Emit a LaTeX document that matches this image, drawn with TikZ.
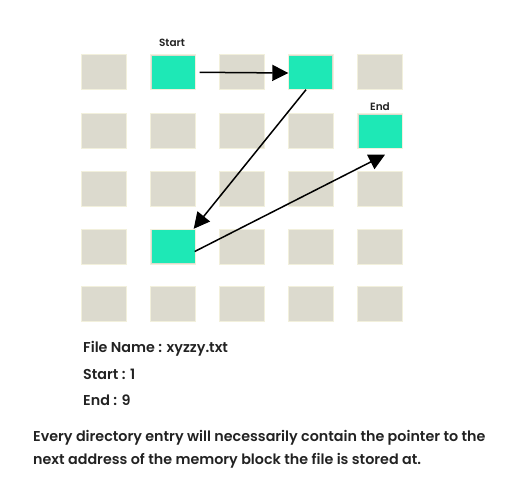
\documentclass[tikz,border=0pt]{standalone}
\usepackage{fontspec}
\setmainfont{Poppins}[UprightFont={* Medium},BoldFont={* SemiBold}]
\usetikzlibrary{arrows.meta}
\definecolor{cellgray}{HTML}{DCDACE}
\definecolor{cellline}{HTML}{F2F0DC}
\definecolor{teal}{HTML}{1EE8B6}
\definecolor{txt}{HTML}{222222}
\tikzset{
  cell/.style={draw=cellline, line width=0.8pt, fill=cellgray, minimum width=45pt, minimum height=35pt, inner sep=0pt},
  gcell/.style={fill=teal, minimum width=43pt, minimum height=33pt, inner sep=0pt},
  link/.style={line width=1.5pt, -{Triangle[length=16pt,width=16pt]}},
  lbl/.style={text=txt, font=\fontsize{10.5}{12}\bfseries\selectfont, inner sep=0pt},
  info/.style={text=txt, font=\fontsize{14.3}{16}\bfseries\selectfont, anchor=west, inner sep=0pt},
}
\begin{document}
\begin{tikzpicture}[x=1pt,y=-1pt]
\useasboundingbox (0,0) rectangle (505,500);
\foreach \r/\cy in {1/72,2/131,3/188.5,4/246.5,5/303.5}{
  \foreach \c/\cx in {1/104,2/172.5,3/241.5,4/310.5,5/379.5}{
    \node[cell] (c\r\c) at (\cx,\cy) {};
  }
}
\node[gcell] (g12) at (173,72.3) {};
\node[gcell] (g14) at (310,73) {};
\node[gcell] (gend) at (380,131) {};
\node[gcell] (g42) at (173,246.5) {};
\node[lbl] (lstart) at (172,43) {Start};
\node[lbl] (lend) at (380,107) {End};
\draw[link] ([xshift=5pt]g12.east) -- (g14.west);
\draw[link] ([xshift=-4pt]g14.south) -- ([xshift=-1pt,yshift=1pt]g42.north east);
\draw[link] ([yshift=-5pt]g42.east) -- ([xshift=5pt,yshift=-7pt]gend.south);
\node[info] (fname) at (83,349) {File Name : xyzzy.txt};
\node[info] (fstart) at (83,374) {Start : 1};
\node[info] (fend) at (83,400) {End : 9};
\node[info] (note1) at (33,438) {Every directory entry will necessarily contain the pointer to the};
\node[info] (note2) at (33,461) {next address of the memory block the file is stored at.};
\end{tikzpicture}
\end{document}
